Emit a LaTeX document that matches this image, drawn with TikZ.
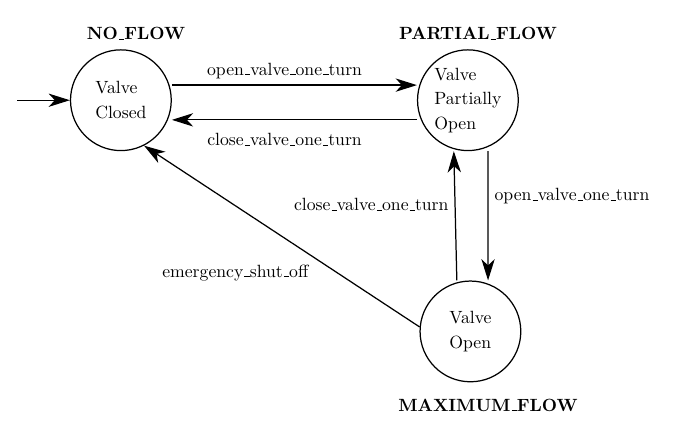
\documentclass[tikz,border=0pt]{standalone}
\usepackage{amsmath}
\usepackage{amssymb}
\usepackage{tikz}
\usetikzlibrary{arrows.meta,positioning}

\newcommand{\uscore}{\leavevmode\kern.06em\vbox{\hrule width.3em}}

\begin{document}
\begin{tikzpicture}[state/.style={circle,draw,line width=0.7pt,minimum size=2cm,inner sep=0pt,align=left,font={\linespread{1.15}\selectfont}},title/.style={font=\bfseries},trans/.style={->,line width=0.7pt},>={Stealth[length=12pt,width=7.5pt,inset=3.5pt]}]
	\useasboundingbox (0,0) rectangle (13.62,-8.70);
	\node[state] (closed) at (2.40,-1.99) {Valve\\Closed};
	\node[state] (partial) at (9.29,-1.99) {Valve\\Partially\\Open};
	\node[state] (open) at (9.34,-6.58) {Valve\\Open};
	\node[title] (noflow) at (2.70,-0.66) {NO\uscore FLOW};
	\node[title] (partialflow) at (9.49,-0.66) {PARTIAL\uscore FLOW};
	\node[title] (maxflow) at (9.69,-8.04) {MAXIMUM\uscore FLOW};
	\coordinate (begin) at (0.34,-1.99);
	\draw[trans] (begin) -- (closed);
	\draw[trans] ([yshift=0.3cm]closed.east) -- node[above,pos=0.46]{open\uscore valve\uscore one\uscore turn} ([yshift=0.3cm]partial.west);
	\draw[trans] ([yshift=-0.39cm]partial.west) -- node[below=4pt,pos=0.54]{close\uscore valve\uscore one\uscore turn} ([yshift=-0.39cm]closed.east);
	\draw[trans] ([xshift=0.4cm]partial.south) -- node[right,pos=0.35]{open\uscore valve\uscore one\uscore turn} ([xshift=0.35cm]open.north);
	\draw[trans] ([xshift=-0.27cm]open.north) -- node[left,pos=0.59]{close\uscore valve\uscore one\uscore turn} ([xshift=-0.28cm]partial.south);
	\draw[trans] (open.175) -- node[below left,pos=0.38]{emergency\uscore shut\uscore off} (closed.297);
\end{tikzpicture}
\end{document}
